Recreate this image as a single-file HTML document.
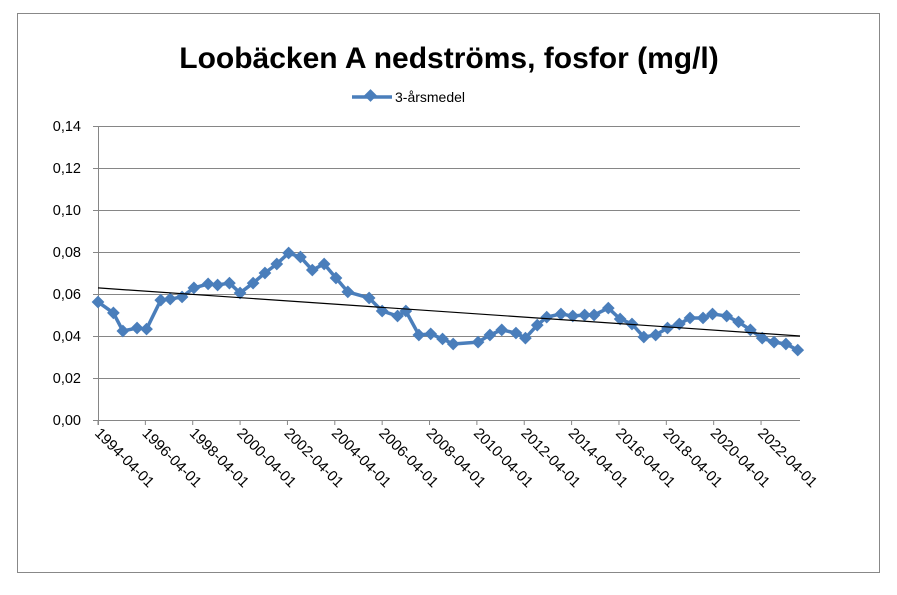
<!DOCTYPE html>
<html><head><meta charset="utf-8"><style>
body{margin:0;background:#fff;font-family:"Liberation Sans",sans-serif}
svg text{font-family:"Liberation Sans",sans-serif}
</style></head><body>
<svg width="897" height="590" xmlns="http://www.w3.org/2000/svg">
<rect x="17.5" y="13.5" width="862" height="559" fill="#fff" stroke="#888"/>
<text x="449" y="68" text-anchor="middle" font-size="30" font-weight="bold">Loobäcken A nedströms, fosfor (mg/l)</text>
<g>
<line x1="352" y1="97" x2="392" y2="97" stroke="#4a7ebb" stroke-width="3.5"/>
<rect x="366" y="91" width="9" height="9" fill="#4a7ebb" transform="rotate(45 370.5 95.5)"/>
<text x="395" y="102" font-size="14">3-årsmedel</text>
</g>
<g id="grid"></g><g id="axes"></g><g id="series"></g>
</svg>
<script>
const years=[1994.25,1994.9,1995.3,1995.9,1996.3,1996.9,1997.3,1997.8,1998.3,1998.9,1999.3,1999.8,2000.25,2000.8,2001.3,2001.8,2002.3,2002.8,2003.3,2003.8,2004.3,2004.8,2005.7,2006.25,2006.9,2007.25,2007.8,2008.3,2008.8,2009.25,2010.3,2010.8,2011.3,2011.9,2012.3,2012.8,2013.2,2013.8,2014.3,2014.8,2015.2,2015.8,2016.3,2016.8,2017.3,2017.8,2018.3,2018.8,2019.25,2019.8,2020.2,2020.8,2021.3,2021.8,2022.3,2022.8,2023.3,2023.8];
const values=[.0562,.051,.0424,.0438,.0433,.0571,.0576,.0586,.0629,.0648,.0643,.0652,.0605,.0652,.07,.0743,.0795,.0776,.0714,.0743,.0676,.061,.0581,.0519,.0495,.0519,.0405,.041,.0386,.0362,.0371,.0405,.0429,.0414,.039,.0452,.049,.0505,.0495,.05,.05,.0533,.0481,.0457,.0395,.0405,.0438,.0457,.0486,.0486,.0505,.0495,.0467,.0429,.039,.0371,.0362,.0333];
const yTicks=[0,0.02,0.04,0.06,0.08,0.10,0.12,0.14];
const xTickLabels=["1994-04-01","1996-04-01","1998-04-01","2000-04-01","2002-04-01","2004-04-01","2006-04-01","2008-04-01","2010-04-01","2012-04-01","2014-04-01","2016-04-01","2018-04-01","2020-04-01","2022-04-01"];
const xTickYears=[1994.25,1996.25,1998.25,2000.25,2002.25,2004.25,2006.25,2008.25,2010.25,2012.25,2014.25,2016.25,2018.25,2020.25,2022.25];
const trend=[0.0629,0.0400];
const X=y=>98+(y-1994.25)*23.68, Y=v=>420-v*2100;
const NS="http://www.w3.org/2000/svg";
function mk(t,a,p){const e=document.createElementNS(NS,t);for(const k in a)e.setAttribute(k,a[k]);p.appendChild(e);return e;}
const g=document.getElementById('grid'),ax=document.getElementById('axes'),s=document.getElementById('series');
yTicks.forEach(v=>{
 const l=mk('line',{x1:93,x2:800,y1:Y(v)+.5,y2:Y(v)+.5,stroke:'#868686'},g);
 
 
 const t=mk('text',{x:81,y:Y(v)+5,'text-anchor':'end','font-size':14.5},ax);
 t.textContent=v.toFixed(2).replace('.',',');
 
 
});
const ya=mk('line',{x1:98.5,x2:98.5,y1:126,y2:425,stroke:'#868686'},ax);


xTickYears.forEach((yr,i)=>{
 const x=X(yr);
 mk('line',{x1:x,x2:x,y1:420,y2:425,stroke:'#868686'},ax);
 const t=mk('text',{x:0,y:0,'font-size':15,transform:`translate(${x-4},${434}) rotate(45)`},ax);
 t.textContent=xTickLabels[i];
 
 
});
const line=mk('polyline',{points:years.map((y,i)=>X(y)+','+Y(values[i])).join(' '),fill:'none',stroke:'#4a7ebb','stroke-width':3.5,'stroke-linejoin':'round'},s);


years.forEach((y,i)=>{
 const cx=X(y),cy=Y(values[i]);
 const r=mk('rect',{x:cx-4.5,y:cy-4.5,width:9,height:9,fill:'#4a7ebb',transform:`rotate(45 ${cx} ${cy})`},s);
 
 
});
const tl=mk('line',{x1:98,y1:Y(trend[0]),x2:800,y2:Y(trend[1]),stroke:'#000','stroke-width':1.2},s);


</script>
</body></html>
